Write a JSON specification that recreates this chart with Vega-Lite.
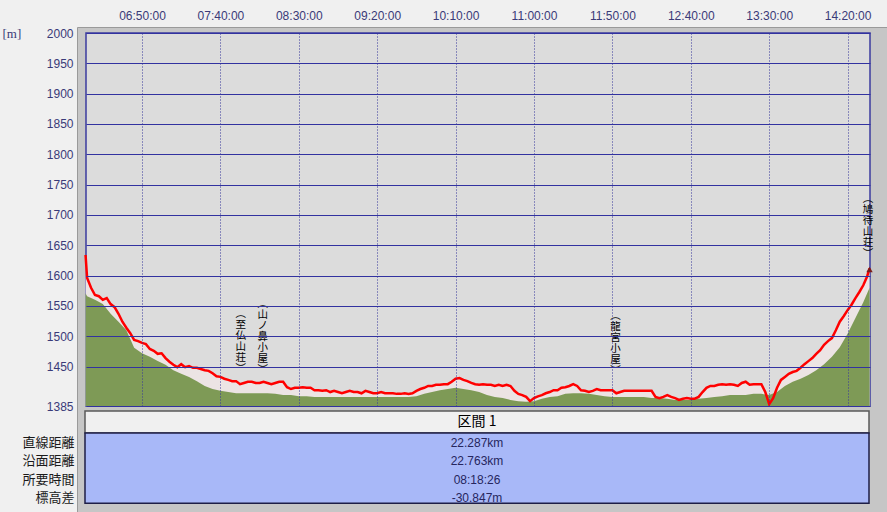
{
  "$schema": "https://vega.github.io/schema/vega-lite/v6.json",
  "width": 810,
  "height": 485,
  "autosize": {"type": "none"},
  "padding": {"left": 77, "top": 27, "right": 0, "bottom": 0},
  "background": "#f0f0f0",
  "config": {"view": {"fill": "#c6c6c6", "stroke": "#9a9a9a", "strokeWidth": 1}},
  "datasets": {
    "track": [
      {"t": "2000-01-01T06:14", "elev": 1634}, {"t": "2000-01-01T06:15", "elev": 1596}, {"t": "2000-01-01T06:17:30", "elev": 1580},
      {"t": "2000-01-01T06:20", "elev": 1568}, {"t": "2000-01-01T06:22:30", "elev": 1566}, {"t": "2000-01-01T06:25", "elev": 1560},
      {"t": "2000-01-01T06:27:30", "elev": 1563}, {"t": "2000-01-01T06:30", "elev": 1553}, {"t": "2000-01-01T06:32:30", "elev": 1548},
      {"t": "2000-01-01T06:35", "elev": 1537}, {"t": "2000-01-01T06:37:30", "elev": 1524}, {"t": "2000-01-01T06:40", "elev": 1514},
      {"t": "2000-01-01T06:42:30", "elev": 1505}, {"t": "2000-01-01T06:45", "elev": 1494}, {"t": "2000-01-01T06:47:30", "elev": 1492},
      {"t": "2000-01-01T06:50", "elev": 1489}, {"t": "2000-01-01T06:52:30", "elev": 1487}, {"t": "2000-01-01T06:55", "elev": 1479},
      {"t": "2000-01-01T06:57:30", "elev": 1476}, {"t": "2000-01-01T07:00", "elev": 1471}, {"t": "2000-01-01T07:02:30", "elev": 1472},
      {"t": "2000-01-01T07:05", "elev": 1464}, {"t": "2000-01-01T07:07:30", "elev": 1458}, {"t": "2000-01-01T07:10", "elev": 1453},
      {"t": "2000-01-01T07:12:30", "elev": 1449}, {"t": "2000-01-01T07:15", "elev": 1454}, {"t": "2000-01-01T07:17:30", "elev": 1449},
      {"t": "2000-01-01T07:20", "elev": 1451}, {"t": "2000-01-01T07:22:30", "elev": 1448}, {"t": "2000-01-01T07:25", "elev": 1448},
      {"t": "2000-01-01T07:27:30", "elev": 1446}, {"t": "2000-01-01T07:30", "elev": 1444}, {"t": "2000-01-01T07:32:30", "elev": 1443},
      {"t": "2000-01-01T07:35", "elev": 1439}, {"t": "2000-01-01T07:37:30", "elev": 1434}, {"t": "2000-01-01T07:40", "elev": 1433},
      {"t": "2000-01-01T07:42:30", "elev": 1430}, {"t": "2000-01-01T07:45", "elev": 1428}, {"t": "2000-01-01T07:47:30", "elev": 1426},
      {"t": "2000-01-01T07:50", "elev": 1426}, {"t": "2000-01-01T07:52:30", "elev": 1421}, {"t": "2000-01-01T07:55", "elev": 1423},
      {"t": "2000-01-01T07:57:30", "elev": 1425}, {"t": "2000-01-01T08:00", "elev": 1425}, {"t": "2000-01-01T08:02:30", "elev": 1423},
      {"t": "2000-01-01T08:05", "elev": 1423}, {"t": "2000-01-01T08:07:30", "elev": 1425}, {"t": "2000-01-01T08:10", "elev": 1423},
      {"t": "2000-01-01T08:12:30", "elev": 1421}, {"t": "2000-01-01T08:15", "elev": 1423}, {"t": "2000-01-01T08:17:30", "elev": 1425},
      {"t": "2000-01-01T08:20", "elev": 1425}, {"t": "2000-01-01T08:22:30", "elev": 1416}, {"t": "2000-01-01T08:25", "elev": 1413},
      {"t": "2000-01-01T08:27:30", "elev": 1415}, {"t": "2000-01-01T08:30", "elev": 1415}, {"t": "2000-01-01T08:32:30", "elev": 1416},
      {"t": "2000-01-01T08:35", "elev": 1415}, {"t": "2000-01-01T08:37:30", "elev": 1415}, {"t": "2000-01-01T08:40", "elev": 1411},
      {"t": "2000-01-01T08:42:30", "elev": 1411}, {"t": "2000-01-01T08:45", "elev": 1410}, {"t": "2000-01-01T08:47:30", "elev": 1411},
      {"t": "2000-01-01T08:50", "elev": 1408}, {"t": "2000-01-01T08:52:30", "elev": 1410}, {"t": "2000-01-01T08:55", "elev": 1408},
      {"t": "2000-01-01T08:57:30", "elev": 1406}, {"t": "2000-01-01T09:00", "elev": 1408}, {"t": "2000-01-01T09:02:30", "elev": 1410},
      {"t": "2000-01-01T09:05", "elev": 1408}, {"t": "2000-01-01T09:07:30", "elev": 1408}, {"t": "2000-01-01T09:10", "elev": 1406},
      {"t": "2000-01-01T09:12:30", "elev": 1410}, {"t": "2000-01-01T09:15", "elev": 1408}, {"t": "2000-01-01T09:17:30", "elev": 1406},
      {"t": "2000-01-01T09:20", "elev": 1406}, {"t": "2000-01-01T09:22:30", "elev": 1408}, {"t": "2000-01-01T09:25", "elev": 1406},
      {"t": "2000-01-01T09:27:30", "elev": 1406}, {"t": "2000-01-01T09:30", "elev": 1406}, {"t": "2000-01-01T09:32:30", "elev": 1405},
      {"t": "2000-01-01T09:35", "elev": 1405}, {"t": "2000-01-01T09:37:30", "elev": 1406}, {"t": "2000-01-01T09:40", "elev": 1405},
      {"t": "2000-01-01T09:42:30", "elev": 1406}, {"t": "2000-01-01T09:45", "elev": 1410}, {"t": "2000-01-01T09:47:30", "elev": 1413},
      {"t": "2000-01-01T09:50", "elev": 1415}, {"t": "2000-01-01T09:52:30", "elev": 1418}, {"t": "2000-01-01T09:55", "elev": 1418},
      {"t": "2000-01-01T09:57:30", "elev": 1420}, {"t": "2000-01-01T10:00", "elev": 1420}, {"t": "2000-01-01T10:02:30", "elev": 1421},
      {"t": "2000-01-01T10:05", "elev": 1421}, {"t": "2000-01-01T10:07:30", "elev": 1425}, {"t": "2000-01-01T10:10", "elev": 1430},
      {"t": "2000-01-01T10:12:30", "elev": 1431}, {"t": "2000-01-01T10:15", "elev": 1428}, {"t": "2000-01-01T10:17:30", "elev": 1426},
      {"t": "2000-01-01T10:20", "elev": 1423}, {"t": "2000-01-01T10:22:30", "elev": 1421}, {"t": "2000-01-01T10:25", "elev": 1420},
      {"t": "2000-01-01T10:27:30", "elev": 1421}, {"t": "2000-01-01T10:30", "elev": 1420}, {"t": "2000-01-01T10:32:30", "elev": 1420},
      {"t": "2000-01-01T10:35", "elev": 1418}, {"t": "2000-01-01T10:37:30", "elev": 1420}, {"t": "2000-01-01T10:40", "elev": 1418},
      {"t": "2000-01-01T10:42:30", "elev": 1420}, {"t": "2000-01-01T10:45", "elev": 1418}, {"t": "2000-01-01T10:47:30", "elev": 1410},
      {"t": "2000-01-01T10:50", "elev": 1405}, {"t": "2000-01-01T10:52:30", "elev": 1403}, {"t": "2000-01-01T10:55", "elev": 1400},
      {"t": "2000-01-01T10:57:30", "elev": 1393}, {"t": "2000-01-01T11:00", "elev": 1398}, {"t": "2000-01-01T11:02:30", "elev": 1401},
      {"t": "2000-01-01T11:05", "elev": 1403}, {"t": "2000-01-01T11:07:30", "elev": 1406}, {"t": "2000-01-01T11:10", "elev": 1408},
      {"t": "2000-01-01T11:12:30", "elev": 1411}, {"t": "2000-01-01T11:15", "elev": 1411}, {"t": "2000-01-01T11:17:30", "elev": 1415},
      {"t": "2000-01-01T11:20", "elev": 1416}, {"t": "2000-01-01T11:22:30", "elev": 1418}, {"t": "2000-01-01T11:25", "elev": 1421},
      {"t": "2000-01-01T11:27:30", "elev": 1418}, {"t": "2000-01-01T11:30", "elev": 1411}, {"t": "2000-01-01T11:32:30", "elev": 1410},
      {"t": "2000-01-01T11:35", "elev": 1408}, {"t": "2000-01-01T11:37:30", "elev": 1410}, {"t": "2000-01-01T11:40", "elev": 1413},
      {"t": "2000-01-01T11:42:30", "elev": 1411}, {"t": "2000-01-01T11:45", "elev": 1411}, {"t": "2000-01-01T11:47:30", "elev": 1411},
      {"t": "2000-01-01T11:50", "elev": 1411}, {"t": "2000-01-01T11:52:30", "elev": 1406}, {"t": "2000-01-01T11:55", "elev": 1408},
      {"t": "2000-01-01T11:57:30", "elev": 1410}, {"t": "2000-01-01T12:00", "elev": 1410}, {"t": "2000-01-01T12:02:30", "elev": 1410},
      {"t": "2000-01-01T12:05", "elev": 1410}, {"t": "2000-01-01T12:07:30", "elev": 1410}, {"t": "2000-01-01T12:10", "elev": 1410},
      {"t": "2000-01-01T12:12:30", "elev": 1410}, {"t": "2000-01-01T12:15", "elev": 1410}, {"t": "2000-01-01T12:17:30", "elev": 1400},
      {"t": "2000-01-01T12:20", "elev": 1398}, {"t": "2000-01-01T12:22:30", "elev": 1400}, {"t": "2000-01-01T12:25", "elev": 1403},
      {"t": "2000-01-01T12:27:30", "elev": 1400}, {"t": "2000-01-01T12:30", "elev": 1398}, {"t": "2000-01-01T12:32:30", "elev": 1395},
      {"t": "2000-01-01T12:35", "elev": 1397}, {"t": "2000-01-01T12:37:30", "elev": 1398}, {"t": "2000-01-01T12:40", "elev": 1397},
      {"t": "2000-01-01T12:42:30", "elev": 1397}, {"t": "2000-01-01T12:45", "elev": 1400}, {"t": "2000-01-01T12:47:30", "elev": 1408},
      {"t": "2000-01-01T12:50", "elev": 1415}, {"t": "2000-01-01T12:52:30", "elev": 1418}, {"t": "2000-01-01T12:55", "elev": 1418},
      {"t": "2000-01-01T12:57:30", "elev": 1420}, {"t": "2000-01-01T13:00", "elev": 1421}, {"t": "2000-01-01T13:02:30", "elev": 1420},
      {"t": "2000-01-01T13:05", "elev": 1421}, {"t": "2000-01-01T13:07:30", "elev": 1420}, {"t": "2000-01-01T13:10", "elev": 1418},
      {"t": "2000-01-01T13:12:30", "elev": 1423}, {"t": "2000-01-01T13:15", "elev": 1425}, {"t": "2000-01-01T13:17:30", "elev": 1420},
      {"t": "2000-01-01T13:20", "elev": 1421}, {"t": "2000-01-01T13:22:30", "elev": 1421}, {"t": "2000-01-01T13:25", "elev": 1421},
      {"t": "2000-01-01T13:27:30", "elev": 1408}, {"t": "2000-01-01T13:30", "elev": 1388}, {"t": "2000-01-01T13:32:30", "elev": 1398},
      {"t": "2000-01-01T13:35", "elev": 1415}, {"t": "2000-01-01T13:37:30", "elev": 1428}, {"t": "2000-01-01T13:40", "elev": 1433},
      {"t": "2000-01-01T13:42:30", "elev": 1438}, {"t": "2000-01-01T13:45", "elev": 1441}, {"t": "2000-01-01T13:47:30", "elev": 1443},
      {"t": "2000-01-01T13:50", "elev": 1448}, {"t": "2000-01-01T13:52:30", "elev": 1454}, {"t": "2000-01-01T13:55", "elev": 1459},
      {"t": "2000-01-01T13:57:30", "elev": 1464}, {"t": "2000-01-01T14:00", "elev": 1471}, {"t": "2000-01-01T14:02:30", "elev": 1477},
      {"t": "2000-01-01T14:05", "elev": 1486}, {"t": "2000-01-01T14:07:30", "elev": 1492}, {"t": "2000-01-01T14:10", "elev": 1497},
      {"t": "2000-01-01T14:12:30", "elev": 1510}, {"t": "2000-01-01T14:15", "elev": 1524}, {"t": "2000-01-01T14:17:30", "elev": 1533},
      {"t": "2000-01-01T14:20", "elev": 1543}, {"t": "2000-01-01T14:22:30", "elev": 1552}, {"t": "2000-01-01T14:25", "elev": 1563},
      {"t": "2000-01-01T14:27:30", "elev": 1573}, {"t": "2000-01-01T14:30", "elev": 1584}, {"t": "2000-01-01T14:32:30", "elev": 1599},
      {"t": "2000-01-01T14:34", "elev": 1612}
    ],
    "terrain": [
      {"t": "2000-01-01T06:14", "elev": 1571}, {"t": "2000-01-01T06:15", "elev": 1566}, {"t": "2000-01-01T06:20", "elev": 1560},
      {"t": "2000-01-01T06:25", "elev": 1553}, {"t": "2000-01-01T06:30", "elev": 1537}, {"t": "2000-01-01T06:35", "elev": 1524},
      {"t": "2000-01-01T06:40", "elev": 1510}, {"t": "2000-01-01T06:45", "elev": 1481}, {"t": "2000-01-01T06:50", "elev": 1472},
      {"t": "2000-01-01T06:55", "elev": 1466}, {"t": "2000-01-01T07:00", "elev": 1459}, {"t": "2000-01-01T07:05", "elev": 1453},
      {"t": "2000-01-01T07:10", "elev": 1444}, {"t": "2000-01-01T07:15", "elev": 1438}, {"t": "2000-01-01T07:20", "elev": 1433},
      {"t": "2000-01-01T07:25", "elev": 1426}, {"t": "2000-01-01T07:30", "elev": 1418}, {"t": "2000-01-01T07:35", "elev": 1413},
      {"t": "2000-01-01T07:40", "elev": 1410}, {"t": "2000-01-01T07:45", "elev": 1408}, {"t": "2000-01-01T07:50", "elev": 1406},
      {"t": "2000-01-01T07:55", "elev": 1406}, {"t": "2000-01-01T08:00", "elev": 1406}, {"t": "2000-01-01T08:05", "elev": 1406},
      {"t": "2000-01-01T08:10", "elev": 1406}, {"t": "2000-01-01T08:15", "elev": 1405}, {"t": "2000-01-01T08:20", "elev": 1403},
      {"t": "2000-01-01T08:25", "elev": 1403}, {"t": "2000-01-01T08:30", "elev": 1401}, {"t": "2000-01-01T08:35", "elev": 1401},
      {"t": "2000-01-01T08:40", "elev": 1400}, {"t": "2000-01-01T08:50", "elev": 1400}, {"t": "2000-01-01T09:00", "elev": 1400},
      {"t": "2000-01-01T09:10", "elev": 1400}, {"t": "2000-01-01T09:20", "elev": 1400}, {"t": "2000-01-01T09:30", "elev": 1400},
      {"t": "2000-01-01T09:40", "elev": 1400}, {"t": "2000-01-01T09:45", "elev": 1401}, {"t": "2000-01-01T09:50", "elev": 1405},
      {"t": "2000-01-01T09:55", "elev": 1408}, {"t": "2000-01-01T10:00", "elev": 1411}, {"t": "2000-01-01T10:05", "elev": 1413},
      {"t": "2000-01-01T10:10", "elev": 1415}, {"t": "2000-01-01T10:15", "elev": 1413}, {"t": "2000-01-01T10:20", "elev": 1411},
      {"t": "2000-01-01T10:25", "elev": 1408}, {"t": "2000-01-01T10:30", "elev": 1403}, {"t": "2000-01-01T10:35", "elev": 1400},
      {"t": "2000-01-01T10:40", "elev": 1398}, {"t": "2000-01-01T10:45", "elev": 1395}, {"t": "2000-01-01T10:50", "elev": 1393},
      {"t": "2000-01-01T10:55", "elev": 1392}, {"t": "2000-01-01T11:00", "elev": 1393}, {"t": "2000-01-01T11:05", "elev": 1397},
      {"t": "2000-01-01T11:10", "elev": 1400}, {"t": "2000-01-01T11:15", "elev": 1401}, {"t": "2000-01-01T11:20", "elev": 1405},
      {"t": "2000-01-01T11:25", "elev": 1406}, {"t": "2000-01-01T11:30", "elev": 1406}, {"t": "2000-01-01T11:35", "elev": 1405},
      {"t": "2000-01-01T11:40", "elev": 1403}, {"t": "2000-01-01T11:45", "elev": 1401}, {"t": "2000-01-01T11:50", "elev": 1400},
      {"t": "2000-01-01T12:00", "elev": 1400}, {"t": "2000-01-01T12:10", "elev": 1400}, {"t": "2000-01-01T12:15", "elev": 1398},
      {"t": "2000-01-01T12:20", "elev": 1398}, {"t": "2000-01-01T12:25", "elev": 1397}, {"t": "2000-01-01T12:30", "elev": 1395},
      {"t": "2000-01-01T12:35", "elev": 1395}, {"t": "2000-01-01T12:40", "elev": 1395}, {"t": "2000-01-01T12:45", "elev": 1397},
      {"t": "2000-01-01T12:50", "elev": 1398}, {"t": "2000-01-01T12:55", "elev": 1400}, {"t": "2000-01-01T13:00", "elev": 1401},
      {"t": "2000-01-01T13:05", "elev": 1403}, {"t": "2000-01-01T13:10", "elev": 1403}, {"t": "2000-01-01T13:15", "elev": 1403},
      {"t": "2000-01-01T13:20", "elev": 1405}, {"t": "2000-01-01T13:25", "elev": 1405}, {"t": "2000-01-01T13:30", "elev": 1403},
      {"t": "2000-01-01T13:35", "elev": 1408}, {"t": "2000-01-01T13:40", "elev": 1418}, {"t": "2000-01-01T13:45", "elev": 1425},
      {"t": "2000-01-01T13:50", "elev": 1430}, {"t": "2000-01-01T13:55", "elev": 1436}, {"t": "2000-01-01T14:00", "elev": 1444},
      {"t": "2000-01-01T14:05", "elev": 1454}, {"t": "2000-01-01T14:10", "elev": 1466}, {"t": "2000-01-01T14:15", "elev": 1482},
      {"t": "2000-01-01T14:20", "elev": 1504}, {"t": "2000-01-01T14:25", "elev": 1530}, {"t": "2000-01-01T14:30", "elev": 1556},
      {"t": "2000-01-01T14:34", "elev": 1580}
    ],
    "labels": [
      {"t": "2000-01-01T07:53", "ey": 1545, "label": ["︵", "至", "仏", "山", "荘", "︶"]},
      {"t": "2000-01-01T08:07", "ey": 1562, "label": ["︵", "山", "ノ", "鼻", "小", "屋", "︶"]},
      {"t": "2000-01-01T11:52", "ey": 1542, "label": ["︵", "龍", "宮", "小", "屋", "︶"]},
      {"t": "2000-01-01T14:33", "ey": 1735, "label": ["︵", "鳩", "待", "山", "荘", "︶"]}
    ],
    "marker": [{"t": "2000-01-01T14:34", "elev": 1610}],
    "table": [
      {"item": "直線距離", "value": "22.287km"},
      {"item": "沿面距離", "value": "22.763km"},
      {"item": "所要時間", "value": "08:18:26"},
      {"item": "標高差", "value": "-30.847m"}
    ],
    "header": [{"section": "区間 1"}]
  },
  "layer": [
    {
      "layer": [
        {
          "data": {"values": [{}]},
          "mark": {"type": "rect", "fill": "#dcdcdc", "stroke": "#3b3b9e", "strokeWidth": 1.5},
          "encoding": {
            "x": {"datum": {"year": 2000, "month": 1, "date": 1, "hours": 6, "minutes": 14, "seconds": 17}, "type": "temporal"},
            "x2": {"datum": {"year": 2000, "month": 1, "date": 1, "hours": 14, "minutes": 34, "seconds": 17}},
            "y": {"datum": 1385, "type": "quantitative"},
            "y2": {"datum": 2000}
          }
        },
        {
          "data": {"name": "track"},
          "mark": {"type": "area", "color": "#ece4e4"},
          "encoding": {
            "x": {
              "field": "t", "type": "temporal",
              "scale": {
                "type": "time",
                "domain": [
                  {"year": 2000, "month": 1, "date": 1, "hours": 6, "minutes": 14, "seconds": 17},
                  {"year": 2000, "month": 1, "date": 1, "hours": 14, "minutes": 34, "seconds": 17}
                ],
                "range": [9, 793]
              },
              "axis": {
                "orient": "top",
                "values": [
                  {"year": 2000, "month": 1, "date": 1, "hours": 6, "minutes": 50},
                  {"year": 2000, "month": 1, "date": 1, "hours": 7, "minutes": 40},
                  {"year": 2000, "month": 1, "date": 1, "hours": 8, "minutes": 30},
                  {"year": 2000, "month": 1, "date": 1, "hours": 9, "minutes": 20},
                  {"year": 2000, "month": 1, "date": 1, "hours": 10, "minutes": 10},
                  {"year": 2000, "month": 1, "date": 1, "hours": 11, "minutes": 0},
                  {"year": 2000, "month": 1, "date": 1, "hours": 11, "minutes": 50},
                  {"year": 2000, "month": 1, "date": 1, "hours": 12, "minutes": 40},
                  {"year": 2000, "month": 1, "date": 1, "hours": 13, "minutes": 30},
                  {"year": 2000, "month": 1, "date": 1, "hours": 14, "minutes": 20}
                ],
                "format": "%H:%M:%S",
                "title": null,
                "labelFont": "Liberation Sans",
                "labelFontSize": 12,
                "labelColor": "#3a3a78",
                "labelPadding": 5,
                "labelFlush": false,
                "labelOverlap": false,
                "ticks": false,
                "tickSize": 0,
                "domain": false,
                "grid": true,
                "gridColor": "#34349a",
                "gridDash": [1, 2],
                "gridWidth": 1,
                "gridOpacity": 1,
                "zindex": 1
              }
            },
            "y": {
              "field": "elev", "type": "quantitative",
              "scale": {"domain": [1385, 2000], "range": [379, 6], "zero": false, "nice": false},
              "axis": {
                "orient": "left",
                "values": [1385, 1450, 1500, 1550, 1600, 1650, 1700, 1750, 1800, 1850, 1900, 1950, 2000],
                "format": "d",
                "title": "[m]",
                "titleAngle": 0,
                "titleX": -75,
                "titleY": 6,
                "titleAlign": "left",
                "titleBaseline": "middle",
                "titleFont": "Liberation Serif",
                "titleFontSize": 13,
                "titleFontWeight": "normal",
                "titleColor": "#3a3a78",
                "labelFont": "Liberation Sans",
                "labelFontSize": 12,
                "labelColor": "#3a3a78",
                "labelPadding": 4,
                "labelFlush": false,
                "labelOverlap": false,
                "ticks": false,
                "tickSize": 0,
                "domain": false,
                "grid": true,
                "gridColor": "#3232a0",
                "gridWidth": 1,
                "gridOpacity": 1,
                "zindex": 1
              }
            },
            "y2": {"datum": 1385}
          }
        },
        {
          "data": {"name": "terrain"},
          "mark": {"type": "area", "color": "#7e9a56"},
          "encoding": {
            "x": {"field": "t", "type": "temporal"},
            "y": {"field": "elev", "type": "quantitative"},
            "y2": {"datum": 1385}
          }
        },
        {
          "data": {"name": "track"},
          "mark": {"type": "line", "color": "#ff0000", "strokeWidth": 2.5},
          "encoding": {
            "x": {"field": "t", "type": "temporal"},
            "y": {"field": "elev", "type": "quantitative"}
          }
        },
        {
          "data": {"name": "labels"},
          "mark": {"type": "text", "font": "Noto Sans CJK JP", "fontSize": 10.5, "lineHeight": 11, "baseline": "top", "align": "center", "color": "#000000"},
          "encoding": {
            "x": {"field": "t", "type": "temporal"},
            "y": {"field": "ey", "type": "quantitative"},
            "text": {"field": "label"}
          }
        },
        {
          "data": {"name": "marker"},
          "mark": {"type": "point", "shape": "triangle-up", "filled": true, "size": 40, "color": "#7a1c1c", "opacity": 1},
          "encoding": {
            "x": {"field": "t", "type": "temporal"},
            "y": {"field": "elev", "type": "quantitative"}
          }
        }
      ]
    },
    {
      "data": {"values": [{}]},
      "layer": [
        {
          "mark": {"type": "rect", "fill": "#f0f0f0", "stroke": "#5a5a5a", "strokeWidth": 1.5},
          "encoding": {
            "x": {"datum": 0, "type": "quantitative", "scale": {"domain": [0, 1], "range": [8, 792]}, "axis": null},
            "x2": {"datum": 1},
            "y": {"datum": 0, "type": "quantitative", "scale": {"domain": [0, 96], "range": [384, 480]}, "axis": null},
            "y2": {"datum": 23}
          }
        },
        {
          "mark": {"type": "rect", "fill": "#a8b8f8", "stroke": "#1e1e46", "strokeWidth": 1.5},
          "encoding": {
            "x": {"datum": 0, "type": "quantitative"},
            "x2": {"datum": 1},
            "y": {"datum": 23, "type": "quantitative"},
            "y2": {"datum": 96}
          }
        },
        {
          "data": {"name": "header"},
          "mark": {"type": "text", "font": "Noto Sans CJK JP", "fontSize": 14, "color": "#000000", "align": "center", "baseline": "middle"},
          "encoding": {
            "x": {"datum": 0.5, "type": "quantitative"},
            "y": {"datum": 11.5, "type": "quantitative"},
            "text": {"field": "section"}
          }
        }
      ]
    },
    {
      "data": {"name": "table"},
      "mark": {"type": "text", "font": "Liberation Sans", "fontSize": 12, "color": "#26265e", "align": "center", "baseline": "middle"},
      "encoding": {
        "x": {"datum": 0.5, "type": "quantitative", "scale": {"domain": [0, 1], "range": [8, 792]}, "axis": null},
        "y": {
          "field": "item", "type": "nominal", "sort": null,
          "scale": {"type": "band", "range": [407, 480], "paddingInner": 0, "paddingOuter": 0},
          "axis": {"orient": "left", "title": null, "domain": false, "ticks": false, "tickSize": 0, "labelPadding": 3, "labelFont": "Noto Sans CJK JP", "labelFontSize": 13, "labelColor": "#1a1a1a", "grid": false}
        },
        "text": {"field": "value"}
      }
    }
  ],
  "resolve": {
    "scale": {"x": "independent", "y": "independent"},
    "axis": {"x": "independent", "y": "independent"}
  }
}
